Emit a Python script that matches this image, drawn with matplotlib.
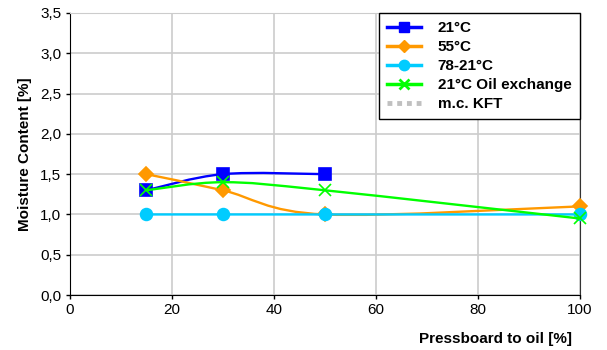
import matplotlib
matplotlib.use("Agg")
import matplotlib.pyplot as plt
import numpy as np
from matplotlib.lines import Line2D
from matplotlib.patches import PathPatch
from matplotlib.path import Path
from matplotlib.ticker import FuncFormatter, MultipleLocator

plt.rcParams["font.family"] = ["Liberation Sans", "DejaVu Sans"]

# moisture content vs. pressboard-to-oil ratio
x_21 = [15, 30, 50]
y_21 = [1.3, 1.5, 1.5]
x_55 = [15, 30, 50, 100]
y_55 = [1.5, 1.3, 1.0, 1.1]
x_78 = [15, 30, 50, 100]
y_78 = [1.0, 1.0, 1.0, 1.0]
x_oil = [15, 30, 50, 100]
y_oil = [1.3, 1.4, 1.3, 0.95]

labels = ["21°C", "55°C", "78-21°C", "21°C Oil exchange", "m.c. KFT"]
colors = ["#0000ff", "#ff9900", "#00ccff", "#00ff00", "#c0c0c0"]


def smooth_path(xs, ys):
    # bezier segments with catmull-rom style control points
    p = np.column_stack([xs, ys]).astype(float)
    n = len(p)
    verts = [p[0]]
    codes = [Path.MOVETO]
    for i in range(n - 1):
        p0 = p[i - 1] if i > 0 else p[i]
        p3 = p[i + 2] if i + 2 < n else p[i + 1]
        c1 = p[i] + (p[i + 1] - p0) / 6
        c2 = p[i + 1] - (p3 - p[i]) / 6
        verts += [c1, c2, p[i + 1]]
        codes += [Path.CURVE4] * 3
    return Path(verts, codes)


fig = plt.figure(figsize=(6.07, 3.5), dpi=100)
ax = fig.add_axes([0.115, 0.157, 0.840, 0.806])

series = [
    (x_21, y_21, "s", 8.5, colors[0]),
    (x_55, y_55, "D", 7.5, colors[1]),
    (x_78, y_78, "o", 8.5, colors[2]),
    (x_oil, y_oil, "x", 8.5, colors[3]),
]
handles = []
for i, (xs, ys, m, ms, c) in enumerate(series):
    ax.add_patch(PathPatch(smooth_path(xs, ys), facecolor="none",
                           edgecolor=c, lw=1.7, zorder=3 + i))
    ax.plot(xs, ys, linestyle="none", marker=m, ms=ms, color=c,
            mec=c, mew=1.2, zorder=3 + i, clip_on=False)
    handles.append(Line2D([], [], color=c, lw=2.5, marker=m, ms=ms - 1,
                          mew=2.0 if m == "x" else 1))
handles.append(Line2D([], [], color=colors[4], lw=3.5, linestyle=(0, (1, 1))))

ax.set_xlim(0, 100)
ax.set_ylim(0, 3.5)
ax.xaxis.set_major_locator(MultipleLocator(20))
ax.yaxis.set_major_locator(MultipleLocator(0.5))
ax.yaxis.set_major_formatter(FuncFormatter(lambda v, _: f"{v:.1f}".replace(".", ",")))
ax.grid(True, color="#cccccc", lw=1.2)
ax.set_axisbelow(True)
ax.tick_params(labelsize=11, length=3, width=1, colors="black", pad=3)
for s in ["left", "bottom"]:
    ax.spines[s].set_color("black")
ax.spines["right"].set_color("#333333")
ax.spines["top"].set_color("#cccccc")

ax.set_ylabel("Moisture Content [%]", fontsize=11, fontweight="bold", labelpad=6)
ax.set_xlabel("Pressboard to oil [%]", fontsize=11, fontweight="bold")
ax.xaxis.set_label_coords(0.985, -0.13)
ax.xaxis.label.set_horizontalalignment("right")

leg = ax.legend(handles, labels, loc="upper right", bbox_to_anchor=(1.0, 1.0),
                borderaxespad=0, fancybox=False, framealpha=1, edgecolor="black",
                prop={"weight": "bold", "size": 11}, handlelength=2.2,
                labelspacing=0.32, borderpad=0.55, handletextpad=1.1)
leg.get_frame().set_linewidth(1.0)
leg.set_zorder(10)

fig.savefig("out.png", dpi=100)
